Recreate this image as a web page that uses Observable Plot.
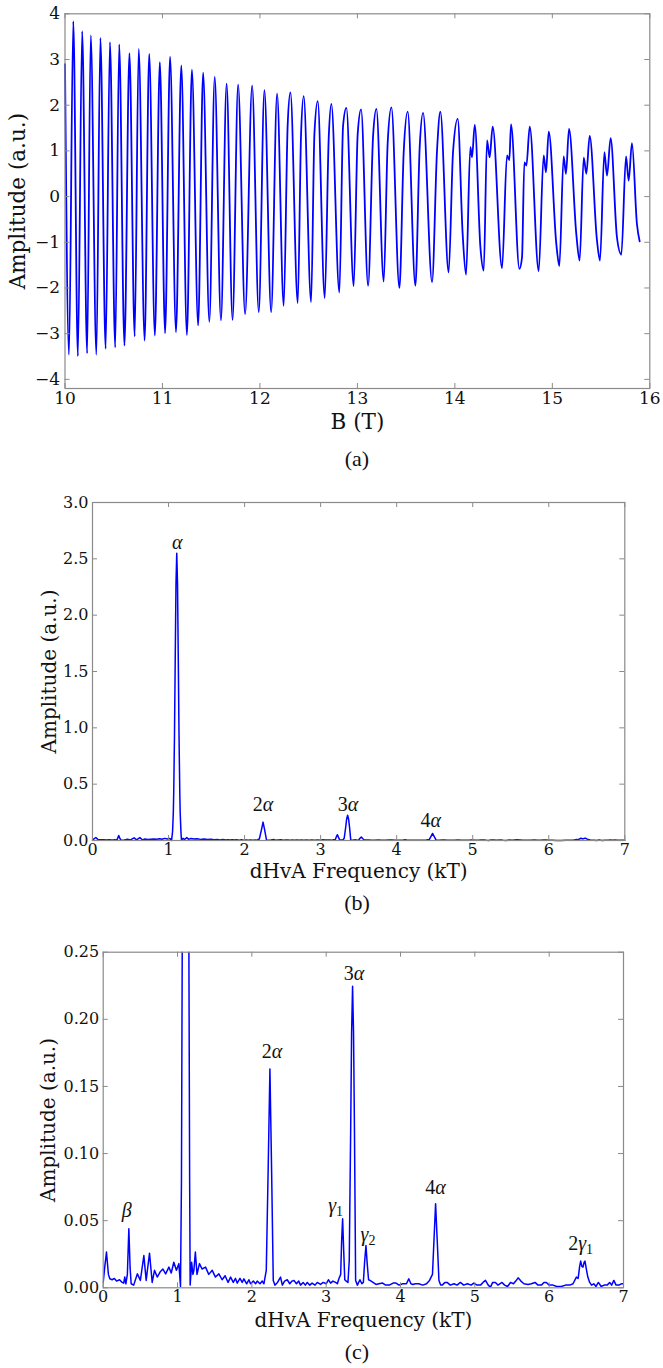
<!DOCTYPE html>
<html>
<head>
<meta charset="utf-8">
<script src="https://cdn.jsdelivr.net/npm/d3@7"></script>
<script src="https://cdn.jsdelivr.net/npm/@observablehq/plot@0.6"></script>
<style>
  html, body { margin: 0; padding: 0; background: #fff; }
  #wrap { position: relative; width: 663px; height: 1368px; background: #fff; overflow: hidden; }
  .panel { position: absolute; left: 0; }
  .panel svg { overflow: visible; }
  .cap { position: absolute; width: 120px; text-align: center; font-family: "Liberation Serif", "Times New Roman", serif; font-size: 22px; line-height: 24px; color: #111; }
</style>
</head>
<body>
<div id="wrap"></div>
<script>
// ---------- Panel (a): magnetisation oscillation, extrema ----------
const fieldB = [
  10.000, 10.041, 10.085, 10.132, 10.176, 10.227, 10.264, 10.322, 10.363, 10.417,
  10.461, 10.515, 10.556, 10.610, 10.661, 10.715, 10.756, 10.817, 10.864, 10.922,
  10.973, 11.027, 11.078, 11.139, 11.193, 11.251, 11.302, 11.366, 11.417, 11.481,
  11.536, 11.600, 11.658, 11.719, 11.776, 11.848, 11.920, 11.988, 12.046, 12.115,
  12.176, 12.244, 12.285, 12.313, 12.388, 12.422, 12.449, 12.525, 12.559, 12.593,
  12.665, 12.706, 12.733, 12.815, 12.853, 12.887, 12.962, 13.003, 13.038, 13.110,
  13.161, 13.195, 13.270, 13.311, 13.349, 13.431, 13.475, 13.516, 13.595, 13.639,
  13.674, 13.766, 13.817, 13.851, 13.936, 13.981, 14.029, 14.080, 14.115, 14.159,
  14.176, 14.204, 14.262, 14.296, 14.330, 14.357, 14.388, 14.484, 14.535, 14.559,
  14.576, 14.662, 14.689, 14.713, 14.734, 14.768, 14.860, 14.911, 14.935, 14.963,
  15.041, 15.072, 15.116, 15.140, 15.171, 15.246, 15.280, 15.322, 15.349, 15.383,
  15.458, 15.489, 15.534, 15.561, 15.598, 15.663, 15.708, 15.756, 15.783, 15.817,
  15.868, 15.896
];
const fieldAmp = [
  2.90, -3.46, 3.84, -3.49, 3.62, -3.43, 3.53, -3.46, 3.47, -3.33,
  3.38, -3.30, 3.33, -3.26, 3.14, -3.06, 3.23, -3.15, 3.12, -3.04,
  2.94, -2.99, 3.06, -2.97, 2.87, -3.03, 2.78, -2.82, 2.71, -2.74,
  2.62, -2.71, 2.47, -2.70, 2.45, -2.57, 2.43, -2.53, 2.33, -2.53,
  2.25, -2.39, 1.59, 2.28, -2.33, 1.37, 2.20, -2.31, 1.37, 2.09,
  -2.22, 1.30, 2.03, -2.10, 1.55, 1.94, -1.96, 1.37, 1.91, -1.95,
  1.33, 1.92, -1.86, 1.19, 1.95, -2.00, 0.97, 1.86, -1.95, 1.08,
  1.83, -1.87, 1.01, 1.86, -1.66, 0.97, 1.70, -0.82, -1.71, 1.08,
  0.86, 1.57, -1.11, -1.62, 1.23, 0.86, 1.53, -1.57, 0.90, 0.80,
  1.58, -1.58, -1.33, 0.75, 0.68, 1.53, -1.63, 0.90, 0.53, 1.42,
  -1.04, -1.52, 0.88, 0.50, 1.48, -0.82, -1.40, 0.85, 0.50, 1.33,
  -0.96, -1.40, 0.97, 0.46, 1.28, -0.89, -1.27, 0.88, 0.35, 1.17,
  -0.60, -0.98
];
const ticksB = [10, 11, 12, 13, 14, 15, 16];
const ticksAmpA = [-4, -3, -2, -1, 0, 1, 2, 3, 4];

// ---------- Panels (b) and (c): FFT spectrum ----------
const freqKT = [
  0.000, 0.020, 0.044, 0.070, 0.089, 0.120, 0.150, 0.180, 0.220, 0.255,
  0.276, 0.290, 0.305, 0.325, 0.345, 0.362, 0.376, 0.410, 0.460, 0.500,
  0.547, 0.578, 0.623, 0.659, 0.690, 0.727, 0.765, 0.803, 0.840, 0.884,
  0.915, 0.950, 0.985, 1.018, 1.040, 1.053, 1.063, 1.068, 1.078, 1.088,
  1.098, 1.108, 1.118, 1.128, 1.138, 1.148, 1.153, 1.163, 1.170, 1.190,
  1.207, 1.220, 1.240, 1.262, 1.295, 1.330, 1.377, 1.420, 1.467, 1.510,
  1.556, 1.600, 1.640, 1.680, 1.714, 1.750, 1.780, 1.803, 1.840, 1.870,
  1.893, 1.930, 1.960, 1.982, 2.020, 2.050, 2.072, 2.110, 2.140, 2.162,
  2.194, 2.220, 2.243, 2.265, 2.288, 2.310, 2.345, 2.386, 2.410, 2.440,
  2.476, 2.510, 2.540, 2.566, 2.600, 2.630, 2.655, 2.690, 2.720, 2.745,
  2.780, 2.810, 2.850, 2.880, 2.924, 2.960, 3.000, 3.030, 3.060, 3.090,
  3.126, 3.150, 3.171, 3.195, 3.208, 3.221, 3.234, 3.250, 3.270, 3.293,
  3.310, 3.330, 3.342, 3.355, 3.368, 3.380, 3.396, 3.420, 3.454, 3.480,
  3.500, 3.518, 3.535, 3.552, 3.570, 3.589, 3.630, 3.670, 3.710, 3.759,
  3.800, 3.849, 3.900, 3.939, 3.980, 4.030, 4.080, 4.111, 4.140, 4.165,
  4.200, 4.245, 4.300, 4.350, 4.390, 4.430, 4.450, 4.472, 4.494, 4.517,
  4.540, 4.560, 4.600, 4.627, 4.670, 4.720, 4.760, 4.806, 4.850, 4.900,
  4.950, 4.986, 5.030, 5.076, 5.110, 5.143, 5.180, 5.210, 5.240, 5.277,
  5.310, 5.366, 5.400, 5.440, 5.480, 5.520, 5.550, 5.582, 5.620, 5.660,
  5.716, 5.760, 5.810, 5.850, 5.895, 5.930, 5.962, 6.000, 6.052, 6.100,
  6.164, 6.220, 6.277, 6.321, 6.366, 6.390, 6.410, 6.424, 6.440, 6.455,
  6.470, 6.482, 6.500, 6.520, 6.545, 6.570, 6.600, 6.630, 6.662, 6.700,
  6.740, 6.780, 6.814, 6.840, 6.870, 6.900, 6.940, 6.970, 7.000
];
const spectrumAmp = [
  0.004, 0.015, 0.0266, 0.010, 0.0067, 0.006, 0.007, 0.005, 0.006, 0.004,
  0.0035, 0.008, 0.003, 0.010, 0.044, 0.015, 0.003, 0.002, 0.0104, 0.0055,
  0.024, 0.0055, 0.0258, 0.004, 0.013, 0.008, 0.0117, 0.014, 0.0104, 0.0154,
  0.011, 0.019, 0.013, 0.018, 0.001, 0.08, 0.25, 0.42, 0.92, 1.62,
  2.28, 2.55, 2.28, 1.62, 0.92, 0.42, 0.25, 0.08, 0.002, 0.019,
  0.010, 0.013, 0.0266, 0.010, 0.018, 0.014, 0.0154, 0.010, 0.013, 0.008,
  0.0104, 0.006, 0.009, 0.004, 0.008, 0.004, 0.007, 0.0035, 0.007, 0.004,
  0.0067, 0.003, 0.006, 0.003, 0.005, 0.003, 0.005, 0.003, 0.005, 0.003,
  0.013, 0.09, 0.163, 0.09, 0.0055, 0.002, 0.004, 0.008, 0.002, 0.005,
  0.006, 0.003, 0.005, 0.0055, 0.003, 0.005, 0.002, 0.004, 0.002, 0.004,
  0.002, 0.0035, 0.002, 0.004, 0.0025, 0.004, 0.003, 0.006, 0.0035, 0.005,
  0.004, 0.003, 0.0067, 0.010, 0.035, 0.0514, 0.030, 0.006, 0.005, 0.004,
  0.020, 0.120, 0.190, 0.2247, 0.190, 0.120, 0.0055, 0.002, 0.006, 0.003,
  0.004, 0.020, 0.0315, 0.018, 0.006, 0.0055, 0.004, 0.0025, 0.003, 0.0035,
  0.002, 0.002, 0.0035, 0.0035, 0.002, 0.003, 0.003, 0.0067, 0.003, 0.0025,
  0.003, 0.003, 0.002, 0.003, 0.0055, 0.010, 0.035, 0.0626, 0.035, 0.0055,
  0.002, 0.002, 0.004, 0.004, 0.002, 0.003, 0.002, 0.004, 0.002, 0.003,
  0.002, 0.0035, 0.002, 0.002, 0.004, 0.0055, 0.002, 0.0005, 0.004, 0.004,
  0.002, 0.004, 0.002, 0.001, 0.004, 0.003, 0.005, 0.0074, 0.005, 0.003,
  0.0025, 0.003, 0.004, 0.002, 0.002, 0.004, 0.004, 0.002, 0.002, 0.001,
  0.001, 0.002, 0.002, 0.003, 0.008, 0.007, 0.016, 0.0199, 0.016, 0.0154,
  0.019, 0.0199, 0.014, 0.008, 0.004, 0.002, 0.003, 0.001, 0.004, 0.001,
  0.002, 0.002, 0.004, 0.002, 0.0055, 0.002, 0.002, 0.003, 0.003
];
const ticksFreq = [0, 1, 2, 3, 4, 5, 6, 7];
const ticksAmpB = [0, 0.5, 1.0, 1.5, 2.0, 2.5, 3.0];
const ticksAmpC = [0, 0.05, 0.10, 0.15, 0.20, 0.25];

// peak annotations (label, frequency, amplitude position)
const labelsB = ["α", "2α", "3α", "4α"];
const labelsBFreq = [1.114, 2.241, 3.36, 4.447];
const labelsBAmp = [2.64, 0.317, 0.317, 0.177];
const labelsC = ["β", "2α", "3α", "γ1", "γ2", "4α", "2γ1"];
const labelsCFreq = [0.315, 2.27, 3.373, 3.127, 3.562, 4.472, 6.424];
const labelsCAmp = [0.0576, 0.176, 0.234, 0.0613, 0.040, 0.075, 0.033];

// ---------- build tables ----------
const fieldData = fieldB.map((b, i) => ({b, amp: fieldAmp[i]}));
const spectrum = freqKT.map((f, i) => ({f, amp: spectrumAmp[i]}));
const annB = labelsB.map((t, i) => ({t, f: labelsBFreq[i], amp: labelsBAmp[i]}));
const annC = labelsC.map((t, i) => ({t, f: labelsCFreq[i], amp: labelsCAmp[i]}));

const wrap = document.getElementById("wrap");
const GRAY = "#8a8a8a";
const BLUE = "#0000ff";

function makePanel(o) {
  const fw = o.width - o.ml - o.mr, fh = o.height - o.mt - o.mb;
  const tl = 5;
  const svg = Plot.plot({
    width: o.width, height: o.height,
    marginLeft: o.ml, marginRight: o.mr, marginTop: o.mt, marginBottom: o.mb,
    style: {fontFamily: '"DejaVu Serif", serif', fontSize: o.tickFont + "px", color: "#111", background: "transparent"},
    x: {type: "linear", domain: o.xDomain},
    y: {type: "linear", domain: o.yDomain},
    marks: [
      ...o.marks,
      Plot.tickX(o.xTicks, {x: d => d, insetTop: fh - tl, stroke: GRAY}),
      Plot.tickX(o.xTicks, {x: d => d, insetBottom: fh - tl, stroke: GRAY}),
      Plot.tickY(o.yTicks, {y: d => d, insetRight: fw - tl, stroke: GRAY}),
      Plot.tickY(o.yTicks, {y: d => d, insetLeft: fw - tl, stroke: GRAY}),
      Plot.frame({stroke: GRAY, strokeWidth: 1.2}),
      Plot.axisX(o.xTicks, {tickSize: 0, tickPadding: o.xPad, tickFormat: o.xFormat, label: o.xLabel, labelAnchor: "center", labelArrow: "none", labelOffset: o.xLabelOffset}),
      Plot.axisY(o.yTicks, {tickSize: 0, tickPadding: o.yPad, tickFormat: o.yFormat, label: o.yLabel, labelAnchor: "center", labelArrow: "none", labelOffset: o.yLabelOffset})
    ]
  });
  d3.select(svg).selectAll('[aria-label="x-axis label"], [aria-label="y-axis label"]')
    .attr("font-size", o.labelFont + "px");
  // math-style labels: upright digits, italic greek, subscript index
  d3.select(svg).selectAll(".mlabel text").each(function () {
    const s = this.textContent;
    const m = s.match(/^(\d*)([αβγ])(\d?)$/);
    if (!m) return;
    const t = d3.select(this);
    t.text(null);
    if (m[1]) t.append("tspan").attr("font-style", "normal").text(m[1]);
    t.append("tspan").attr("font-style", "italic").text(m[2]);
    if (m[3]) t.append("tspan").attr("font-style", "normal").attr("font-size", "0.7em").attr("dy", "0.3em").text(m[3]);
  });
  const div = document.createElement("div");
  div.className = "panel";
  div.style.top = o.top + "px";
  div.appendChild(svg);
  wrap.appendChild(div);
}

function caption(text, cx, cy) {
  const d = document.createElement("div");
  d.className = "cap";
  d.style.left = (cx - 60) + "px";
  d.style.top = (cy - 12) + "px";
  d.textContent = text;
  wrap.appendChild(d);
}

const mathFont = '"Liberation Serif", "Times New Roman", serif';

// Panel (a)
makePanel({
  top: 0, width: 663, height: 440, ml: 64.5, mr: 13.7, mt: 13.3, mb: 52,
  xDomain: [10, 16], yDomain: [-4.2, 4], xTicks: ticksB, yTicks: ticksAmpA,
  xFormat: d => String(d), yFormat: d => d < 0 ? "\u2212" + Math.abs(d) : String(d),
  xPad: 3, yPad: 5, tickFont: 17, labelFont: 21.5,
  xLabel: "B (T)", yLabel: "Amplitude (a.u.)", xLabelOffset: 40, yLabelOffset: 55,
  marks: [
    Plot.line(fieldData, {x: "b", y: "amp", stroke: BLUE, strokeWidth: 1.8, curve: "monotone-x"})
  ]
});
caption("(a)", 357, 459);

// Panel (b)
makePanel({
  top: 460, width: 663, height: 420, ml: 92, mr: 38.7, mt: 42, mb: 40,
  xDomain: [0, 7], yDomain: [0, 3], xTicks: ticksFreq, yTicks: ticksAmpB,
  xFormat: d => String(d), yFormat: d3.format(".1f"),
  xPad: 3, yPad: 4, tickFont: 16, labelFont: 20,
  xLabel: "dHvA Frequency (kT)", yLabel: "Amplitude (a.u.)", xLabelOffset: 37, yLabelOffset: 51,
  marks: [
    Plot.line(spectrum, {x: "f", y: "amp", stroke: BLUE, strokeWidth: 1.5}),
    Plot.text(annB, {x: "f", y: "amp", text: "t", fontFamily: mathFont, fontSize: 20, fill: "#111", className: "mlabel"})
  ]
});
caption("(b)", 357, 903);

// Panel (c)
makePanel({
  top: 920, width: 663, height: 420, ml: 102.7, mr: 40, mt: 31.7, mb: 52.7,
  xDomain: [0, 7], yDomain: [0, 0.25], xTicks: ticksFreq, yTicks: ticksAmpC,
  xFormat: d => String(d), yFormat: d3.format(".2f"),
  xPad: 3, yPad: 4, tickFont: 16, labelFont: 20,
  xLabel: "dHvA Frequency (kT)", yLabel: "Amplitude (a.u.)", xLabelOffset: 39.5, yLabelOffset: 62.5,
  marks: [
    Plot.line(spectrum, {x: "f", y: "amp", stroke: BLUE, strokeWidth: 1.5, clip: true}),
    Plot.text(annC, {x: "f", y: "amp", text: "t", fontFamily: mathFont, fontSize: 20, fill: "#111", className: "mlabel"})
  ]
});
caption("(c)", 357, 1352);
</script>
</body>
</html>
